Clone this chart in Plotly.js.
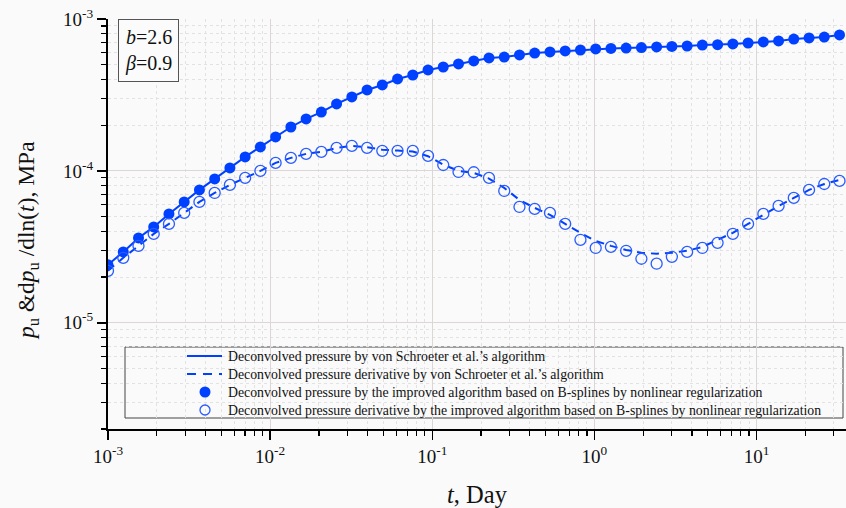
<!DOCTYPE html>
<html>
<head>
<meta charset="utf-8">
<script src="https://cdn.plot.ly/plotly-3.0.1.min.js"></script>
<style>
html,body{margin:0;padding:0;background:#fafafa;}
#chart{width:846px;height:508px;}
</style>
</head>
<body>
<div id="chart"></div>
<script>
// Time, Day
var tDays = [0.001, 0.001242, 0.001542, 0.001914, 0.002377, 0.002951, 0.003664, 0.00455, 0.005649, 0.007015,
  0.00871, 0.01081, 0.01343, 0.01667, 0.0207, 0.0257, 0.03192, 0.03963, 0.0492, 0.06109,
  0.07586, 0.09419, 0.1169, 0.1452, 0.1803, 0.2239, 0.278, 0.3451, 0.4285, 0.5321,
  0.6607, 0.8204, 1.019, 1.265, 1.57, 1.95, 2.421, 3.006, 3.733, 4.634,
  5.754, 7.145, 8.872, 11.02, 13.68, 16.98, 21.09, 26.18, 32.51];

// Deconvolved pressure by the improved algorithm (filled circles), MPa
var pressureBspline = [2.41e-5, 2.93e-5, 3.62e-5, 4.28e-5, 5.21e-5, 6.25e-5, 7.50e-5, 8.86e-5, 1.047e-4, 1.236e-4,
  1.439e-4, 1.674e-4, 1.946e-4, 2.20e-4, 2.44e-4, 2.76e-4, 3.07e-4, 3.41e-4, 3.68e-4, 4.03e-4,
  4.28e-4, 4.62e-4, 4.83e-4, 5.06e-4, 5.30e-4, 5.54e-4, 5.62e-4, 5.80e-4, 5.97e-4, 6.07e-4,
  6.16e-4, 6.25e-4, 6.35e-4, 6.40e-4, 6.44e-4, 6.48e-4, 6.55e-4, 6.60e-4, 6.64e-4, 6.74e-4,
  6.78e-4, 6.85e-4, 6.95e-4, 7.06e-4, 7.17e-4, 7.38e-4, 7.50e-4, 7.61e-4, 7.85e-4];

// Deconvolved pressure by von Schroeter et al. (solid line), MPa
var pressureVS = [2.41e-5, 2.93e-5, 3.62e-5, 4.28e-5, 5.21e-5, 6.25e-5, 7.50e-5, 8.86e-5, 1.047e-4, 1.236e-4,
  1.439e-4, 1.674e-4, 1.946e-4, 2.20e-4, 2.44e-4, 2.76e-4, 3.07e-4, 3.41e-4, 3.68e-4, 4.03e-4,
  4.28e-4, 4.62e-4, 4.83e-4, 5.06e-4, 5.30e-4, 5.54e-4, 5.62e-4, 5.80e-4, 5.97e-4, 6.07e-4,
  6.16e-4, 6.25e-4, 6.35e-4, 6.40e-4, 6.44e-4, 6.48e-4, 6.55e-4, 6.60e-4, 6.64e-4, 6.74e-4,
  6.78e-4, 6.85e-4, 6.95e-4, 7.06e-4, 7.17e-4, 7.38e-4, 7.50e-4, 7.61e-4, 7.85e-4];

// Deconvolved pressure derivative by the improved algorithm (open circles), MPa
var derivBspline = [2.20e-5, 2.68e-5, 3.21e-5, 3.85e-5, 4.48e-5, 5.29e-5, 6.25e-5, 7.16e-5, 8.09e-5, 8.99e-5,
  1.00e-4, 1.129e-4, 1.219e-4, 1.295e-4, 1.334e-4, 1.417e-4, 1.46e-4, 1.417e-4, 1.355e-4, 1.355e-4,
  1.355e-4, 1.256e-4, 1.094e-4, 9.84e-5, 9.80e-5, 8.99e-5, 7.38e-5, 5.79e-5, 5.62e-5, 5.29e-5,
  4.48e-5, 3.52e-5, 3.11e-5, 3.16e-5, 2.98e-5, 2.64e-5, 2.45e-5, 2.72e-5, 2.93e-5, 3.11e-5,
  3.36e-5, 3.85e-5, 4.48e-5, 5.21e-5, 5.88e-5, 6.64e-5, 7.50e-5, 8.20e-5, 8.59e-5];

// Deconvolved pressure derivative by von Schroeter et al. (dashed line), MPa
var derivVS = [2.20e-5, 2.68e-5, 3.21e-5, 3.85e-5, 4.48e-5, 5.29e-5, 6.25e-5, 7.16e-5, 8.09e-5, 8.99e-5,
  1.00e-4, 1.129e-4, 1.219e-4, 1.295e-4, 1.334e-4, 1.417e-4, 1.46e-4, 1.43e-4, 1.38e-4, 1.36e-4,
  1.34e-4, 1.25e-4, 1.10e-4, 1.00e-4, 9.70e-5, 8.90e-5, 7.73e-5, 6.44e-5, 5.71e-5, 5.14e-5,
  4.48e-5, 3.91e-5, 3.46e-5, 3.21e-5, 3.02e-5, 2.89e-5, 2.85e-5, 2.89e-5, 2.98e-5, 3.16e-5,
  3.52e-5, 3.91e-5, 4.48e-5, 5.14e-5, 5.88e-5, 6.64e-5, 7.50e-5, 8.20e-5, 8.73e-5];

// Tick labels
var xTickVals = [0.001, 0.01, 0.1, 1, 10];
var xTickText = ['10<sup>-3</sup>', '10<sup>-2</sup>', '10<sup>-1</sup>', '10<sup>0</sup>', '10<sup>1</sup>'];
var yTickVals = [1e-5, 1e-4, 1e-3];
var yTickText = ['10<sup>-5</sup>', '10<sup>-4</sup>', '10<sup>-3</sup>'];

var legendNames = [
  "Deconvolved pressure by von Schroeter et al.\u2019s algorithm",
  "Deconvolved pressure derivative by von Schroeter et al.\u2019s algorithm",
  "Deconvolved pressure by the improved algorithm based on B-splines by nonlinear regularization",
  "Deconvolved pressure derivative by the improved algorithm based on B-splines by nonlinear regularization"
];

var blue = '#0040ff';
var openBlue = '#2a5cff';
var serif = '"Liberation Serif", "Times New Roman", serif';

var traces = [
  {x: tDays, y: pressureVS, type: 'scatter', mode: 'lines', name: legendNames[0],
   line: {color: blue, width: 2}},
  {x: tDays, y: derivVS, type: 'scatter', mode: 'lines', name: legendNames[1],
   line: {color: blue, width: 2, dash: '8px,6px'}},
  {x: tDays, y: pressureBspline, type: 'scatter', mode: 'markers', name: legendNames[2],
   marker: {color: blue, size: 11, symbol: 'circle', line: {width: 0}}},
  {x: tDays, y: derivBspline, type: 'scatter', mode: 'markers', name: legendNames[3],
   marker: {color: openBlue, size: 11, symbol: 'circle-open', line: {width: 1.3, color: openBlue}}}
];

var L = 108, R = 0, T = 19, B = 79, W = 846, H = 508;
var pw = W - L - R, ph = H - T - B;
function px2x(p){ return (p - L) / pw; }
function py2y(p){ return 1 - (p - T) / ph; }

// minor tick positions (2..9 in each decade)
function minorTicks(lo, hi){
  var v = [];
  for (var e = lo; e <= hi; e++) for (var d = 2; d <= 9; d++) v.push(d * Math.pow(10, e));
  return v;
}

// legend (drawn as layout decorations inside a framed box)
var legRows = [356, 374, 392, 410];
var shapes = [
  {type: 'rect', xref: 'paper', yref: 'paper',
   x0: px2x(125), x1: px2x(843), y0: py2y(418), y1: py2y(347),
   line: {color: '#444', width: 1}, fillcolor: 'rgba(250,250,250,0.9)', layer: 'below'},
  {type: 'line', xref: 'paper', yref: 'paper', x0: px2x(187), x1: px2x(222),
   y0: py2y(legRows[0]), y1: py2y(legRows[0]), line: {color: blue, width: 2}},
  {type: 'line', xref: 'paper', yref: 'paper', x0: px2x(187), x1: px2x(222),
   y0: py2y(legRows[1]), y1: py2y(legRows[1]), line: {color: blue, width: 2, dash: '9px,7px'}},
  {type: 'circle', xref: 'paper', yref: 'paper', x0: px2x(199.5), x1: px2x(210.5),
   y0: py2y(legRows[2] + 5.5), y1: py2y(legRows[2] - 5.5), line: {width: 0}, fillcolor: blue},
  {type: 'circle', xref: 'paper', yref: 'paper', x0: px2x(200), x1: px2x(210),
   y0: py2y(legRows[3] + 5), y1: py2y(legRows[3] - 5), line: {width: 1.3, color: openBlue}, fillcolor: 'rgba(0,0,0,0)'}
];

var annotations = [
  {xref: 'paper', yref: 'paper', x: px2x(118), y: 1, xanchor: 'left', yanchor: 'top',
   text: '<i>b</i>=2.6<br><i>\u03b2</i>=0.9', align: 'left', showarrow: false,
   font: {family: serif, size: 20, color: '#111'},
   bordercolor: '#555', borderwidth: 1, borderpad: 6, bgcolor: '#fbfbfb'},
  // y-axis title
  {xref: 'paper', yref: 'paper', x: px2x(28), y: py2y(241), xanchor: 'center', yanchor: 'middle',
   text: '<i>p</i><sub>u</sub> &amp;d<i>p</i><sub>u</sub> /dln(<i>t</i>), MPa', textangle: -90,
   showarrow: false, font: {family: serif, size: 23.5, color: '#111'}}
];
legendNames.forEach(function(n, i){
  annotations.push({xref: 'paper', yref: 'paper', x: px2x(226), y: py2y(legRows[i]),
    xanchor: 'left', yanchor: 'middle', text: n, showarrow: false, align: 'left',
    font: {family: serif, size: 13.8, color: '#111'}});
});

var layout = {
  width: W, height: H,
  margin: {l: L, r: R, t: T, b: B, pad: 0},
  paper_bgcolor: '#fafafa',
  plot_bgcolor: '#fafafa',
  font: {family: serif, color: '#111'},
  showlegend: false,
  xaxis: {
    type: 'log',
    range: [-3, 1.552],
    tickmode: 'array', tickvals: xTickVals, ticktext: xTickText,
    showline: true, linecolor: '#000', linewidth: 2,
    ticks: 'outside', ticklen: 9, tickwidth: 1.5, tickcolor: '#000',
    showgrid: true, gridcolor: '#dcd6d6', gridwidth: 1,
    zeroline: false,
    tickfont: {family: serif, size: 19, color: '#111'},
    minor: {tickmode: 'array', tickvals: minorTicks(-3, 1), ticks: 'outside', ticklen: 5, tickwidth: 1.2, tickcolor: '#000',
            showgrid: true, gridcolor: '#e2e2e2', griddash: 'dot', gridwidth: 1},
    title: {text: '<i>t</i>, Day', font: {family: serif, size: 24.5, color: '#111'}, standoff: 20}
  },
  yaxis: {
    type: 'log',
    range: [Math.log10(2e-6), -3],
    tickmode: 'array', tickvals: yTickVals, ticktext: yTickText,
    showline: true, linecolor: '#000', linewidth: 2,
    ticks: 'outside', ticklen: 9, tickwidth: 1.5, tickcolor: '#000',
    showgrid: true, gridcolor: '#dcd6d6', gridwidth: 1,
    zeroline: false,
    tickfont: {family: serif, size: 19, color: '#111'},
    minor: {tickmode: 'array', tickvals: minorTicks(-6, -4), ticks: 'outside', ticklen: 5, tickwidth: 1.2, tickcolor: '#000',
            showgrid: true, gridcolor: '#e2e2e2', griddash: 'dot', gridwidth: 1}
  },
  shapes: shapes,
  annotations: annotations
};

Plotly.newPlot('chart', traces, layout, {displayModeBar: false, staticPlot: true});
</script>
</body>
</html>
